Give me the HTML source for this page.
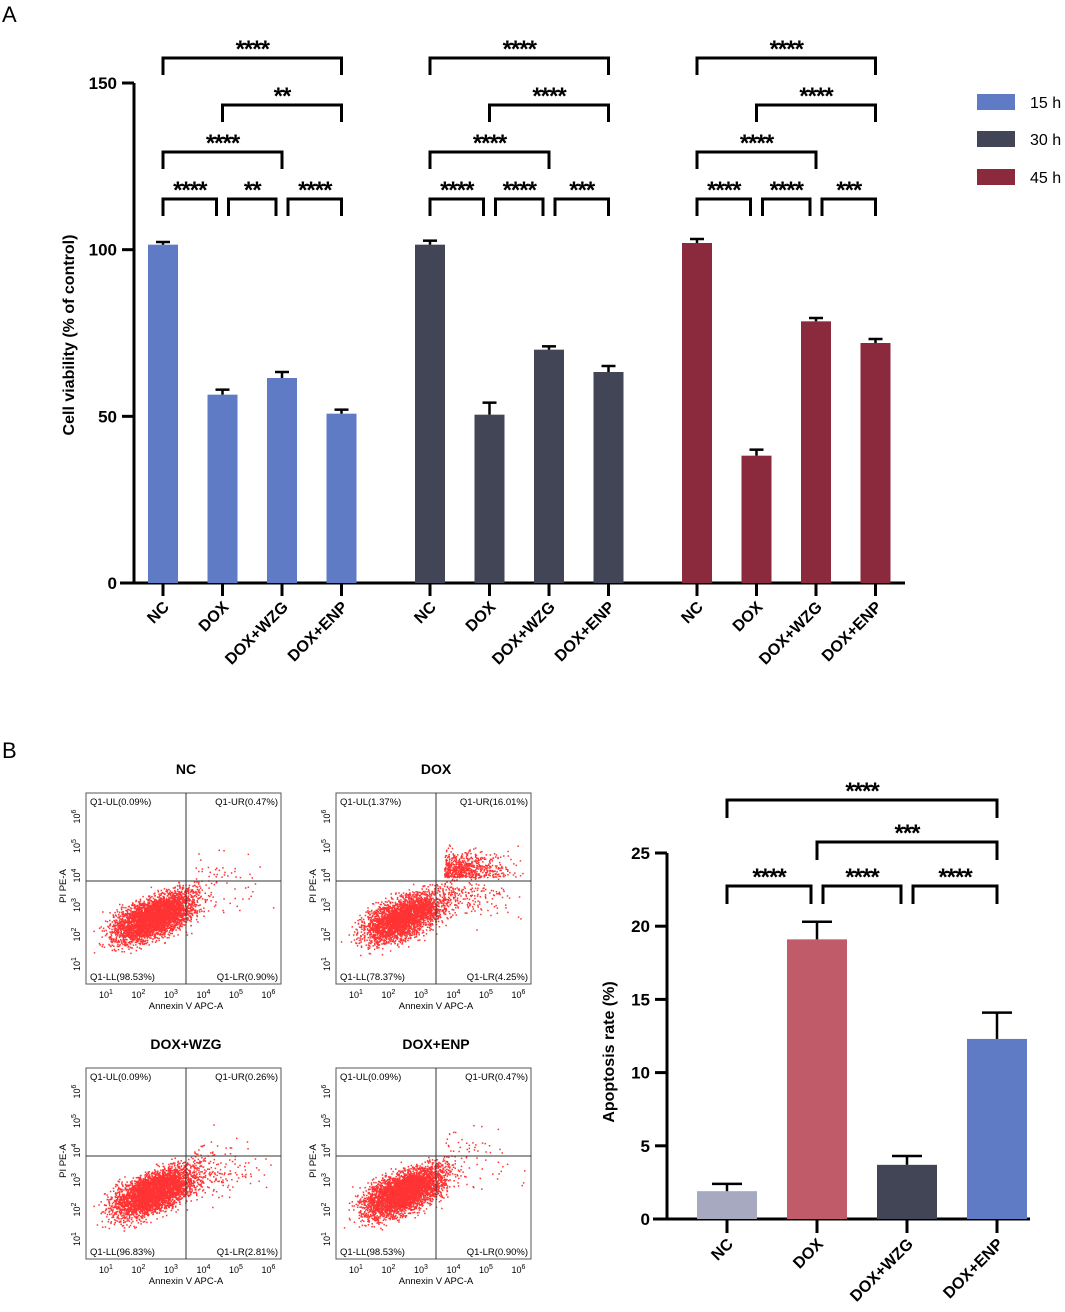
<!DOCTYPE html>
<html><head><meta charset="utf-8"><style>
html,body{margin:0;padding:0;background:#fff;}
svg{display:block;font-family:"Liberation Sans",Arial,sans-serif;}
</style></head><body>
<svg id="fig" width="1065" height="1312" viewBox="0 0 1065 1312" xmlns="http://www.w3.org/2000/svg">
<text x="2" y="22" font-size="22">A</text>
<text x="2" y="758" font-size="22">B</text>
<g id="chartA"></g>
<g id="flow"></g>
<g id="chartB"></g>
</svg>
<script>
// ---- Chart A data ----
const groupsA = ["NC","DOX","DOX+WZG","DOX+ENP"];
const seriesNamesA = ["15 h","30 h","45 h"];
const values15 = [101.5, 56.5, 61.5, 50.8];
const values30 = [101.5, 50.5, 70, 63.3];
const values45 = [102, 38.2, 78.5, 72];
const err15 = [0.8, 1.5, 1.8, 1.2];
const err30 = [1.2, 3.6, 1.0, 1.8];
const err45 = [1.2, 1.8, 1.0, 1.2];
const ticksA = [0, 50, 100, 150];
const bracketsA = [[0,3,"****"],[1,3,"**"],[0,2,"****"],[0,1,"****"],[1,2,"**"],[2,3,"****"]];
const bracketStars30 = ["****","****","****","****","****","***"];
const bracketStars45 = ["****","****","****","****","****","***"];
// ---- Chart B data ----
const groupsB = ["NC","DOX","DOX+WZG","DOX+ENP"];
const valuesB = [1.9, 19.1, 3.7, 12.3];
const errB = [0.5, 1.2, 0.6, 1.8];
const ticksB = [0, 5, 10, 15, 20, 25];
const bracketsB = [[0,3,"****"],[1,3,"***"],[0,1,"****"],[1,2,"****"],[2,3,"****"]];
// ---- Flow data ----
const flowTitles = ["NC","DOX","DOX+WZG","DOX+ENP"];
const flowQuads = [["0.09","0.47","98.53","0.90"],["1.37","16.01","78.37","4.25"],["0.09","0.26","96.83","2.81"],["0.09","0.47","98.53","0.90"]];

const NS="http://www.w3.org/2000/svg";
function mk(parent,tag,attrs,text){const e=document.createElementNS(NS,tag);for(const k in attrs)e.setAttribute(k,attrs[k]);if(text!==undefined)e.textContent=text;parent.appendChild(e);return e;}
const STAR=24, STARDY=-1;

// ===== Chart A =====
(function(){
const g=document.getElementById('chartA');
const y0=583, yPer=500/150;
const yA=v=>y0-v*yPer;
const colors=["#5f7bc5","#414556","#8b2a3c"];
const allVals=[values15,values30,values45], allErr=[err15,err30,err45];
const starsets=[bracketsA.map(b=>b[2]),bracketStars30,bracketStars45];
const groupStart=[163,430,697], step=59.5, bw=30;
const xA=(s,i)=>groupStart[s]+i*step;
let l=mk(g,'line',{x1:134,y1:83,x2:134,y2:584,stroke:'#000','stroke-width':3});

l=mk(g,'line',{x1:120,y1:583,x2:905,y2:583,stroke:'#000','stroke-width':3});

ticksA.forEach(t=>{
 const y=yA(t);
 mk(g,'line',{x1:122,y1:y,x2:134,y2:y,stroke:'#000','stroke-width':3});
 const tx=mk(g,'text',{x:117,y:y+6,'font-size':17,'font-weight':'bold','text-anchor':'end'},t);
 
});
const yt=mk(g,'text',{x:0,y:0,'font-size':16,'font-weight':'bold','text-anchor':'middle',transform:'translate(74,335) rotate(-90)'},'Cell viability (% of control)');

for(let s=0;s<3;s++){
 for(let i=0;i<4;i++){
  const x=xA(s,i), v=allVals[s][i], e=allErr[s][i];
  const r=mk(g,'rect',{x:x-bw/2,y:yA(v),width:bw,height:y0-yA(v),fill:colors[s]});
  
  
  mk(g,'line',{x1:x,y1:yA(v),x2:x,y2:yA(v+e),stroke:'#000','stroke-width':2.5});
  mk(g,'line',{x1:x-7,y1:yA(v+e),x2:x+7,y2:yA(v+e),stroke:'#000','stroke-width':2.5});
  mk(g,'line',{x1:x,y1:583,x2:x,y2:596,stroke:'#000','stroke-width':3});
  const lab=mk(g,'text',{x:0,y:0,'font-size':16,'font-weight':'bold','text-anchor':'end',transform:`translate(${x+7},${608}) rotate(-45)`},groupsA[i]);
  
 }
 const levels=[58,105,152,199];
 bracketsA.forEach((b,k)=>{
  const lvl=levels[Math.min(k,3)];
  const adj=(b[1]-b[0]===1);
  let x1=xA(s,b[0]), x2=xA(s,b[1]);
  if(adj){ if(b[0]>0) x1+=6; if(b[1]<3) x2-=6; }
  const p=mk(g,'path',{d:`M${x1} ${lvl+17}V${lvl}H${x2}V${lvl+17}`,fill:'none',stroke:'#000','stroke-width':3});
  
  const t=mk(g,'text',{x:(x1+x2)/2,y:lvl+STARDY,'font-size':STAR,'font-weight':'bold','text-anchor':'middle','letter-spacing':'-1'},starsets[s][k]);
  
 });
}
const ly=[102,139,177];
for(let s=0;s<3;s++){
 const r=mk(g,'rect',{x:977,y:ly[s]-8,width:38,height:16,fill:colors[s]});
 
 const t=mk(g,'text',{x:1030,y:ly[s]+6,'font-size':16},seriesNamesA[s]);
 
}
})();

// ===== Flow panels =====
(function(){
const g=document.getElementById('flow');
let seed=12345;
function rnd(){seed=(seed*1103515245+12345)%2147483648;return seed/2147483648;}
function gauss(){return (rnd()+rnd()+rnd()+rnd()-2)/0.58;}
const origins=[[86,793],[336,793],[86,1068],[336,1068]];
const W=195,H=191;
const ur=[0.005,0.16,0.003,0.005], lr=[0.01,0.045,0.03,0.01];
origins.forEach((o,p)=>{
 const [ox,oy]=o;
 const pg=mk(g,'g',{});
 
 
 const tt=mk(pg,'text',{x:ox+100,y:oy-19,'font-size':14,'font-weight':'bold','text-anchor':'middle'},flowTitles[p]);
 
 const vx=ox+100, hy=oy+88;
 const n=4000; let d='';
 for(let i=0;i<n;i++){
  let x,y; const r=rnd();
  if(r<ur[p]){x=vx+8+Math.abs(gauss())*30;y=hy-4-Math.abs(gauss())*12;}
  else if(r<ur[p]+lr[p]){x=vx+5+Math.abs(gauss())*35;y=hy+15+gauss()*12;}
  else {const a=gauss(),b=gauss();x=vx-32+a*20;y=hy+36-a*7+b*10;}
  if(x<ox+2||x>ox+W-2||y<oy+2||y>oy+H-2)continue;
  d+=`M${x.toFixed(1)} ${y.toFixed(1)}h1.5v1.5h-1.5z`;
 }
 mk(pg,'path',{d:d,fill:'#f00',opacity:0.8});
 mk(pg,'rect',{x:ox,y:oy,width:W,height:H,fill:'none',stroke:'#555','stroke-width':1});
 mk(pg,'line',{x1:vx,y1:oy,x2:vx,y2:oy+H,stroke:'#333','stroke-width':1});
 mk(pg,'line',{x1:ox,y1:hy,x2:ox+W,y2:hy,stroke:'#333','stroke-width':1});
 const q=flowQuads[p];
 mk(pg,'text',{x:ox+4,y:oy+12,'font-size':9.5},'Q1-UL('+q[0]+'%)');
 mk(pg,'text',{x:ox+W-3,y:oy+12,'font-size':9.5,'text-anchor':'end'},'Q1-UR('+q[1]+'%)');
 mk(pg,'text',{x:ox+4,y:oy+H-4,'font-size':9.5},'Q1-LL('+q[2]+'%)');
 mk(pg,'text',{x:ox+W-3,y:oy+H-4,'font-size':9.5,'text-anchor':'end'},'Q1-LR('+q[3]+'%)');
 for(let k=1;k<=6;k++){
  const tx=ox+20+(k-1)*32.5;
  const t=mk(pg,'text',{x:tx,y:oy+H+14,'font-size':9,'text-anchor':'middle'},'10');
  mk(t,'tspan',{dy:-4,'font-size':7},String(k));
  const ty=oy+H-20-(k-1)*29.5;
  const t2=mk(pg,'text',{x:0,y:0,'font-size':9,'text-anchor':'middle',transform:`translate(${ox-6},${ty}) rotate(-90)`},'10');
  mk(t2,'tspan',{dy:-4,'font-size':7},String(k));
 }
 const xl=mk(pg,'text',{x:ox+100,y:oy+H+25,'font-size':9.5,'text-anchor':'middle'},'Annexin V APC-A');
 
 const yl=mk(pg,'text',{x:0,y:0,'font-size':9.5,'text-anchor':'middle',transform:`translate(${ox-20},${hy+5}) rotate(-90)`},'PI PE-A');
 
});
})();

// ===== Chart B =====
(function(){
const g=document.getElementById('chartB');
const y0=1219, yPer=(1219-853)/25;
const yB=v=>y0-v*yPer;
const xB=i=>727+i*90;
const colors=["#a6a9bf","#c05b6a","#414556","#5f7bc5"];
const bw=60;
let l=mk(g,'line',{x1:667,y1:853,x2:667,y2:1220,stroke:'#000','stroke-width':3});

l=mk(g,'line',{x1:653,y1:1219,x2:1030,y2:1219,stroke:'#000','stroke-width':3});

ticksB.forEach(t=>{
 const y=yB(t);
 mk(g,'line',{x1:655,y1:y,x2:667,y2:y,stroke:'#000','stroke-width':3});
 const tx=mk(g,'text',{x:650,y:y+6,'font-size':17,'font-weight':'bold','text-anchor':'end'},t);
 
});
const yt=mk(g,'text',{x:0,y:0,'font-size':16,'font-weight':'bold','text-anchor':'middle',transform:'translate(614,1052) rotate(-90)'},'Apoptosis rate (%)');

valuesB.forEach((v,i)=>{
 const x=xB(i), e=errB[i];
 const r=mk(g,'rect',{x:x-bw/2,y:yB(v),width:bw,height:y0-yB(v),fill:colors[i]});
 
 mk(g,'line',{x1:x,y1:yB(v),x2:x,y2:yB(v+e),stroke:'#000','stroke-width':2.5});
 mk(g,'line',{x1:x-15,y1:yB(v+e),x2:x+15,y2:yB(v+e),stroke:'#000','stroke-width':2.5});
 mk(g,'line',{x1:x,y1:1219,x2:x,y2:1233,stroke:'#000','stroke-width':3});
 const lab=mk(g,'text',{x:0,y:0,'font-size':16,'font-weight':'bold','text-anchor':'end',transform:`translate(${x+7},${1245}) rotate(-45)`},groupsB[i]);
 
});
const levels=[800,842,886,886,886];
bracketsB.forEach((b,k)=>{
 const lvl=levels[k];
 const adj=(b[1]-b[0]===1);
 let x1=xB(b[0]), x2=xB(b[1]);
 if(adj){ if(b[0]>0) x1+=6; if(b[1]<3) x2-=6; }
 const p=mk(g,'path',{d:`M${x1} ${lvl+18}V${lvl}H${x2}V${lvl+18}`,fill:'none',stroke:'#000','stroke-width':3});
 
 const t=mk(g,'text',{x:(x1+x2)/2,y:lvl+STARDY,'font-size':STAR,'font-weight':'bold','text-anchor':'middle','letter-spacing':'-1'},b[2]);
 
});
})();
</script>
</body></html>
